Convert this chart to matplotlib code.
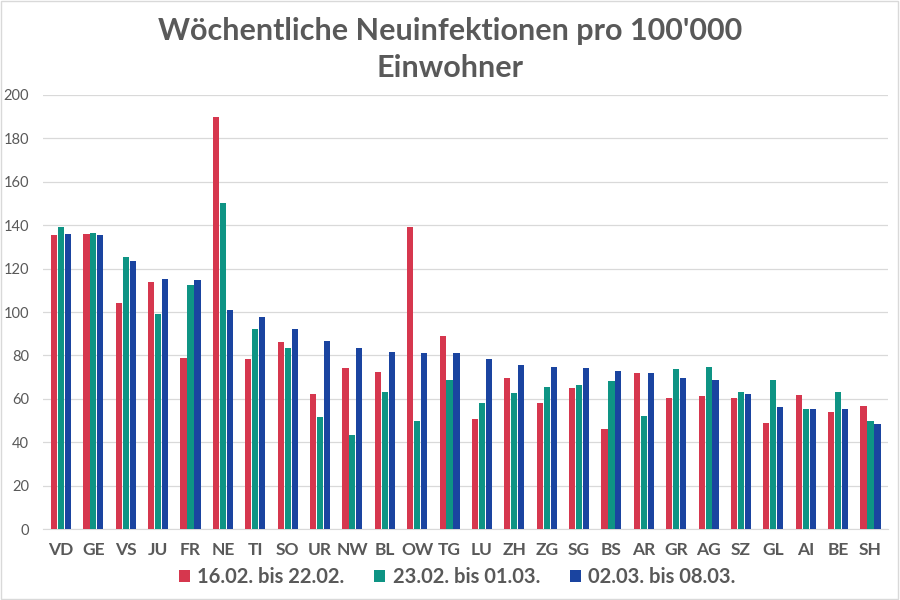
import numpy as np
import matplotlib.pyplot as plt
from matplotlib.patches import Rectangle

kantone = ['VD', 'GE', 'VS', 'JU', 'FR', 'NE', 'TI', 'SO', 'UR', 'NW', 'BL', 'OW', 'TG',
           'LU', 'ZH', 'ZG', 'SG', 'BS', 'AR', 'GR', 'AG', 'SZ', 'GL', 'AI', 'BE', 'SH']

# Woche 16.02. bis 22.02.
woche1 = [135.4, 135.9, 104.1, 113.8, 78.8, 190.0, 78.2, 86.3, 62.3, 74.1, 72.5, 139.3, 88.8,
          50.9, 69.5, 58.0, 65.0, 46.2, 72.1, 60.6, 61.3, 60.3, 48.9, 61.7, 53.8, 56.9]
# Woche 23.02. bis 01.03.
woche2 = [139.3, 136.5, 125.5, 98.9, 112.4, 150.0, 92.0, 83.4, 51.5, 43.6, 63.0, 50.0, 68.9,
          58.3, 62.7, 65.3, 66.4, 68.1, 52.0, 73.8, 74.8, 63.3, 68.6, 55.4, 63.3, 49.7]
# Woche 02.03. bis 08.03.
woche3 = [135.9, 135.3, 123.5, 115.0, 114.7, 100.9, 97.9, 92.3, 86.8, 83.4, 81.6, 81.3, 81.0,
          78.5, 75.8, 74.8, 74.1, 72.7, 72.1, 69.5, 68.9, 62.1, 56.4, 55.4, 55.4, 48.3]

legenden = ['16.02. bis 22.02.', '23.02. bis 01.03.', '02.03. bis 08.03.']
farben = ['#d6374e', '#0e9484', '#1a44a0']

plt.rcParams['font.family'] = ['Lato', 'DejaVu Sans']
grau = '#595959'

fig = plt.figure(figsize=(9, 6), dpi=100)
ax = fig.add_axes([0.048, 0.118, 0.939, 0.724])

x = np.arange(len(kantone))
breite = 0.19
for i, (werte, name, farbe) in enumerate(zip([woche1, woche2, woche3], legenden, farben)):
    ax.bar(x + (i - 1) * 0.215, werte, width=breite, color=farbe, label=name, zorder=3)

ax.set_ylim(0, 200)
ax.set_xlim(-0.55, len(kantone) - 0.45)
ax.set_yticks(range(0, 201, 20))
ax.set_xticks(x)
ax.set_xticklabels(kantone, fontsize=12.5, fontweight='bold', color=grau)
ax.tick_params(axis='y', labelsize=10.5, labelcolor=grau, length=0, pad=10)
ax.tick_params(axis='x', length=0, pad=9)
ax.grid(axis='y', color='#d9d9d9', linewidth=0.9, zorder=0)
for s in ['top', 'right', 'left']:
    ax.spines[s].set_visible(False)
ax.spines['bottom'].set_color('#d9d9d9')

fig.suptitle("Wöchentliche Neuinfektionen pro 100'000\nEinwohner", fontsize=22,
             fontweight='bold', color=grau, y=0.972, linespacing=1.4)

fig.legend(loc='center', bbox_to_anchor=(0.508, 0.038), ncol=3, frameon=False,
           handlelength=0.55, handleheight=0.55, handletextpad=0.35,
           columnspacing=1.5, labelcolor=grau, prop={'weight': 'bold', 'size': 14.5})

fig.patches.append(Rectangle((0.001, 0.001), 0.997, 0.997, transform=fig.transFigure,
                             fill=False, edgecolor='#d9d9d9', linewidth=1))

plt.savefig('out.png', dpi=100)
